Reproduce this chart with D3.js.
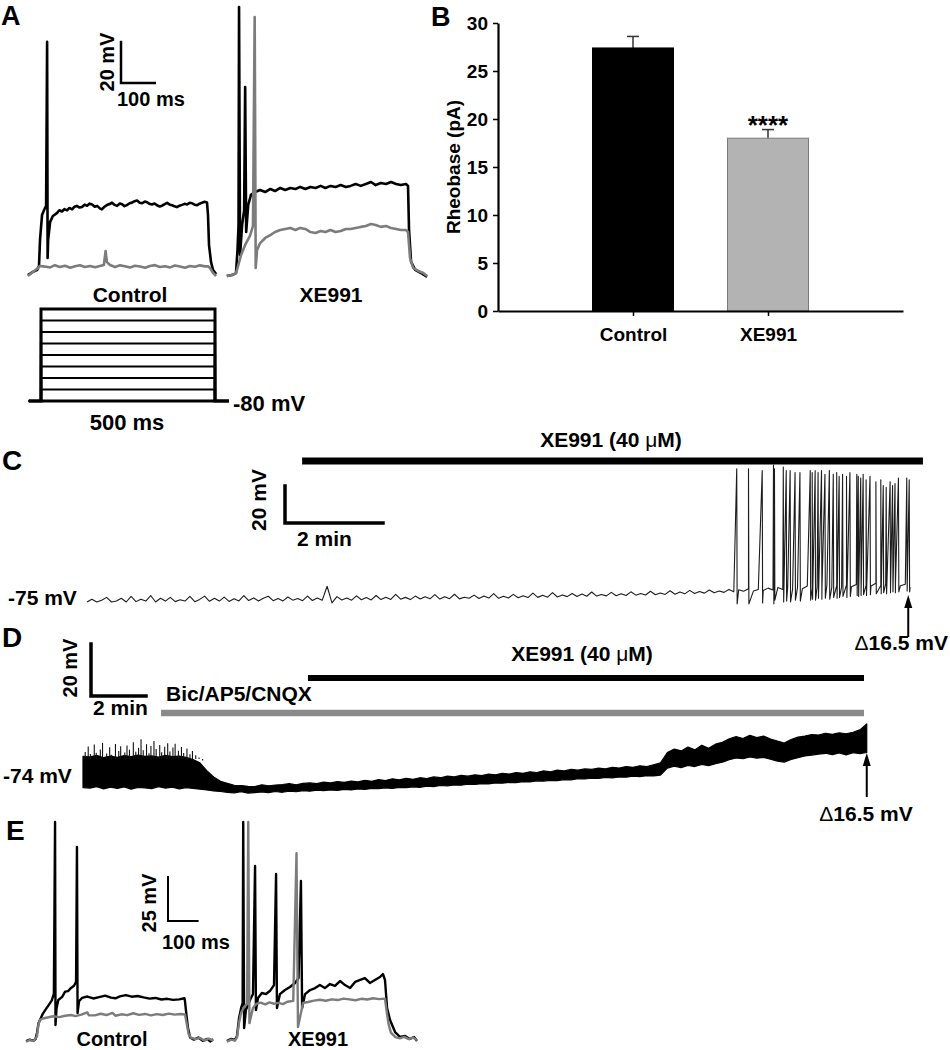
<!DOCTYPE html>
<html>
<head>
<meta charset="utf-8">
<script src="https://cdn.jsdelivr.net/npm/d3@7"></script>
<style>
  body { margin: 0; background: #fff; }
  svg text { font-family: "Liberation Sans", Arial, sans-serif; font-weight: bold; fill: #000; }
</style>
</head>
<body>
<svg id="fig" width="950" height="1050"></svg>
<script>
// ---- data ----

// A: current-clamp traces [ms, mV]
var aCtrlBlack = [[-33,-83.9],[-18,-82.4],[-6,-81.5],[0,-79.5],[3,-66.8],[9,-54.6],[15,-52.2],[21,-50.2],[24,29.8],[25.5,-75.6],[27,-66.8],[33,-58],[41,-55.1],[53,-53.7],[60,-52.3],[68,-52.9],[75,-51.8],[83,-52.4],[90,-51.2],[98,-51.9],[105,-50.6],[112,-50.2],[120,-51],[127,-50.7],[135,-49.6],[142,-50.1],[150,-49.1],[157,-49.5],[165,-50.6],[172,-50.2],[180,-51.4],[186,-51.9],[194,-50.5],[201,-49.8],[209,-49.3],[216,-48.6],[224,-49.7],[231,-50.2],[239,-49],[246,-49.4],[253,-50.3],[260,-49.8],[268,-48.9],[275,-48.6],[283,-47.9],[290,-47.6],[298,-48.7],[305,-48.9],[313,-48.1],[320,-48.4],[327,-49.2],[334,-49.5],[342,-49],[349,-49.9],[357,-50.5],[364,-50.1],[372,-49.3],[379,-48.7],[387,-49.6],[394,-49.9],[401,-50.4],[408,-50.8],[416,-50.1],[423,-49.7],[431,-49.2],[438,-49.5],[446,-48.7],[453,-48.9],[460,-49.6],[468,-49.9],[475,-49.1],[482,-48.7],[490,-48.2],[497,-48.5],[500,-54.6],[503,-69.3],[509,-77.6],[515,-81.5],[524,-83.4]];
var aCtrlGray = [[-33,-84.4],[-18,-82.4],[-3,-80.5],[3,-79.5],[18,-79.8],[33,-80.2],[47,-79.1],[62,-80],[77,-79.4],[92,-80.4],[107,-79.6],[121,-79.1],[136,-80],[151,-79.5],[166,-80.1],[180,-79.5],[192,-79],[197,-72.2],[201,-77.6],[210,-79],[225,-80],[240,-79.2],[254,-79.6],[269,-80.3],[284,-79.4],[299,-79.8],[314,-80.4],[328,-79.5],[343,-79.1],[358,-80],[373,-79.6],[388,-80.2],[402,-79.3],[417,-79.8],[432,-80.4],[447,-79.5],[462,-79.9],[476,-79.2],[491,-79.7],[500,-79.6],[506,-80.5],[515,-82.9],[524,-84.4]];
var aXeBlack = [[-30,-82],[-15,-81.5],[-3,-80.5],[1.5,-69.3],[4.5,-57.1],[6,49.3],[9,-71.7],[15,-57.1],[21,-49.8],[24,10.2],[27,-60.5],[33,-47.3],[41,-42.4],[53,-41],[68,-40],[83,-41],[98,-39.5],[112,-40.5],[127,-39],[142,-40],[157,-39],[172,-39.5],[186,-38.5],[201,-39.5],[216,-38.5],[231,-39],[246,-38],[260,-39],[275,-38],[290,-38.5],[305,-37.6],[320,-38.5],[334,-38],[349,-37.1],[364,-38],[379,-37.1],[394,-36.1],[408,-37.6],[423,-36.6],[438,-37.1],[453,-36.1],[468,-37.1],[482,-37.6],[497,-37.1],[503,-38],[506,-59.5],[512,-75],[524,-79],[541,-80.5],[559,-82.4]];
var aXeGray = [[-30,-82],[-15,-81.5],[-3,-80.5],[3,-77.1],[12,-71.7],[24,-66.8],[38,-62.4],[47,-57.6],[52,44.4],[55,-78],[59,-69.3],[68,-65.9],[83,-63.4],[98,-62],[112,-60.5],[127,-59.5],[142,-59],[157,-58.5],[172,-59.5],[186,-58.5],[201,-59],[216,-60.5],[231,-61],[246,-60],[260,-60.5],[275,-59.5],[290,-60.5],[305,-60],[320,-59],[334,-59],[349,-58.5],[364,-58],[379,-57.6],[394,-56.6],[408,-57.1],[423,-58],[438,-57.6],[453,-58.5],[468,-59],[482,-59.5],[497,-59.5],[503,-60.5],[509,-73.2],[518,-78],[533,-79.5],[548,-80.5],[559,-82]];
var stepCurrents = [0, 5, 10, 15, 20, 25, 30, 35, 40]; // pA, 500 ms steps

// B: rheobase
var rheoGroups = ["Control", "XE991"];
var rheoMeans = [27.4, 18.0];
var rheoSems = [1.2, 0.9];
var rheoTicks = [0, 5, 10, 15, 20, 25, 30];

// C: XE991 wash-in, sampled every 0.1 min (mV), plus action potentials [min, peak, trough]
var cDt = 0.1;
var cTrace = [
  -75,-73.5,-75,-74,-72.5,-75,-74.5,-73,-75,-72,
  -74.8,-73.5,-74.5,-71.5,-75,-73,-74.5,-72.5,-74.8,-73.8,
  -74.5,-72,-74.8,-73.6,-71.8,-74.6,-73,-74.5,-72.4,-74.7,
  -73.2,-74.4,-71.5,-74.2,-72.8,-74.5,-73,-71.9,-74.3,-73.1,
  -74.4,-72.3,-74,-73.1,-74.3,-71.8,-74.2,-72.9,-74.1,-66.5,
  -75.5,-72.1,-73.9,-72.8,-74,-71.7,-73.8,-72.6,-73.9,-71.5,
  -73.7,-72.4,-73.6,-70.9,-73.5,-72.5,-73.7,-71.8,-73.4,-72.2,
  -73.3,-71,-73.4,-72.1,-73.2,-70.8,-73.3,-72.4,-73,-71.3,
  -73.1,-71.7,-72.9,-70.5,-73,-71.9,-72.8,-70.9,-72.7,-71.6,
  -72.6,-70.2,-72.5,-71.3,-72.4,-69.9,-72.3,-71.2,-72.1,-70.4,
  -72,-70.7,-71.9,-69.6,-71.8,-70.9,-71.7,-69.8,-71.6,-70.5,
  -71.5,-69.5,-71.3,-70.4,-71.2,-69.2,-71.1,-70.1,-70.9,-68.9,
  -70.8,-69.6,-70.6,-68.7,-70.4,-69.3,-70.2,-68.5,-70,-69.1,
  -69.8,-68.2,-69.5,-68.4,-69.2,-67.9,-69.1,-68.2,-68.8,-67.5,
  -68.5,-67.1,-68.2,-66.9,-68,-67.2,-67.8,-66.4,-67.6,-66.8,
  -67.3,-65.9,-67.1,-66.2,-66.9,-65.7,-66.8,-65.5,-66.6,-65.9,
  -66.3,-64.9,-66.1,-65.2,-65.9,-64.8,-66.2,-65.4,-67
];
var cSpikes = [[13.26,-3,-76],[13.50,-3,-76],[13.78,-4,-75.5],[14.01,-1,-76],[14.03,-3,-74],[14.21,-2,-75],[14.27,-4,-74.5],[14.35,-4,-75],[14.45,-5,-74],[14.55,-5,-74.5],[14.76,-4,-74],[14.80,-5,-73.5],[14.86,-4,-74],[14.92,-5,-73],[14.99,-4,-73.5],[15.06,-6,-73],[15.15,-4,-73.5],[15.23,-6,-72.5],[15.30,-5,-73],[15.35,-7,-72.5],[15.42,-6,-72],[15.50,-7,-72.5],[15.57,-5,-72],[15.71,-6,-71.5],[15.74,-7,-72],[15.79,-8,-71.5],[15.84,-6,-71],[15.90,-9,-71.5],[15.98,-7,-71],[16.10,-10,-70.5],[16.20,-9,-70.5],[16.25,-12,-70],[16.31,-13,-70.5],[16.39,-10,-70],[16.44,-12,-69.5],[16.49,-11,-70],[16.56,-8,-69.5],[16.73,-8,-69],[16.78,-9,-69.5]];
var cDrug = [4.39, 17.06]; // min
var cArrowT = 16.76;

// D: same in Bic/AP5/CNQX, envelope of the trace every 0.25 min (mV)
var dDt = 0.25;
var dLow = [
  -75,-75.2,-74.6,-75.5,-74.8,-75.3,-74.7,-75.6,-74.9,-75.1,
  -75.4,-74.6,-75.2,-74.8,-75.5,-75,-75.3,-75.6,-75.9,-76.3,
  -76.5,-76.8,-77,-76.6,-77.1,-76.9,-76.7,-76.9,-76.5,-76.8,
  -76.4,-76.6,-76.2,-76.4,-76,-76.2,-75.9,-76.1,-75.7,-75.9,
  -75.5,-75.7,-75.3,-75.4,-75.1,-75.3,-74.9,-75,-74.7,-74.9,
  -74.4,-74.6,-74.2,-74.3,-74,-74.1,-73.7,-73.8,-73.5,-73.6,
  -73.2,-73.3,-73,-73.1,-72.7,-72.8,-72.4,-72.5,-72.2,-72.3,
  -71.9,-72,-71.6,-71.7,-71.4,-71.5,-71.1,-71.3,-70.9,-71,
  -70.6,-70.8,-70.4,-70.5,-70.2,-67.5,-66.8,-67.3,-66.5,-66.9,
  -66.1,-66.6,-65.8,-65.2,-64.3,-63.6,-63.9,-63.2,-63.7,-63.4,
  -64.1,-64.8,-65.2,-64.2,-63.5,-62.8,-62.5,-62.1,-61.8,-62.3,
  -61.7,-62.4,-61.6,-61.9,-61.5
];
var dHigh = [
  -63,-63.2,-62.6,-63.5,-62.9,-63.4,-62.7,-63.1,-62.5,-63,
  -62.8,-63.3,-62.6,-63.1,-62.9,-63.4,-64.2,-65.5,-68.5,-70.9,
  -72.6,-73.4,-74.1,-74.2,-74.5,-74.6,-73.9,-74.3,-74,-73.8,
  -73.5,-73.9,-73.4,-73.2,-73.5,-72.9,-73.2,-72.7,-73,-72.5,
  -72.8,-72.2,-72.6,-71.9,-72.3,-71.6,-72,-71.4,-71.8,-71.2,
  -71.5,-70.9,-71.2,-70.6,-70.9,-70.3,-70.6,-70.1,-70.4,-69.8,
  -70.1,-69.5,-69.8,-69.2,-69.5,-68.9,-69.2,-68.6,-68.9,-68.3,
  -68.6,-68,-68.3,-67.8,-68,-67.5,-67.8,-67.2,-67.5,-66.9,
  -67.2,-66.6,-66.9,-66.2,-65.5,-61.5,-60.2,-60.9,-59.4,-60.5,
  -58.7,-59.9,-58.3,-57.6,-56.2,-55.4,-56.1,-54.9,-55.8,-55.2,
  -56.3,-57.1,-57.9,-56.5,-55.6,-55.2,-54.6,-54.8,-54.1,-54.5,
  -53.9,-54.3,-53.7,-52.8,-50.5
];
// spontaneous events riding on the early (pre-blocker) part of D [min, peak mV]
var dBurst = [[0.08,-61.3],[0.19,-59.2],[0.27,-62.1],[0.41,-58.4],[0.48,-61.6],[0.63,-60.3],[0.71,-57.8],[0.86,-61.9],[0.97,-59.5],[1.04,-62.4],[1.18,-58.2],[1.3,-60.9],[1.37,-59.1],[1.52,-61.5],[1.6,-58.8],[1.69,-60.4],[1.83,-57.6],[1.92,-61.2],[2.02,-59.7],[2.11,-56.4],[2.19,-60.6],[2.31,-58.3],[2.4,-61.8],[2.47,-59],[2.58,-57.1],[2.66,-60.2],[2.79,-58.6],[2.86,-61.4],[2.97,-59.3],[3.08,-57.9],[3.16,-61.1],[3.27,-59.6],[3.35,-58.1],[3.47,-60.8],[3.58,-59.4],[3.66,-61.7],[3.78,-60],[3.89,-62.2],[3.98,-60.9],[4.1,-62.6],[4.22,-63.4],[4.35,-64.6]];
var dBlockers = [2.84, 28.4]; // min
var dDrug = [8.18, 28.4];
var dArrowT = 28.5;

// E: current-clamp traces [ms, mV]
var eCtrlBlack = [[-37,-80.6],[-25,-79.8],[-12,-80.4],[-5,-79.5],[0,-76],[5,-70.5],[10,-68.6],[20,-65],[30,-62.5],[40,-60],[50,-57.5],[57,-53.8],[61,43.9],[62.5,-71.5],[66,-62],[72,-57.3],[85,-55.5],[95,-52.5],[105,-52.2],[115,-50.4],[125,-49.2],[132,-47],[135,29.7],[137,-64.7],[142,-58],[152,-56.1],[170,-55.3],[190,-56.4],[210,-55.6],[230,-54.8],[250,-55.9],[265,-56.3],[280,-55.2],[300,-54.5],[320,-55.4],[340,-55],[360,-55.8],[380,-56.5],[400,-56.1],[420,-57],[440,-56.6],[460,-57.2],[480,-56.9],[498,-56.3],[500,-58],[505,-66],[510,-73],[517,-78.5],[530,-79.8],[545,-78.6],[560,-80.5],[575,-79.4],[585,-80.8],[595,-79.6]];
var eCtrlGray = [[-37,-81],[-25,-80],[-12,-80.6],[0,-78],[5,-71],[10,-68.6],[20,-67.8],[35,-67.2],[55,-66.5],[75,-67],[95,-66.2],[115,-65.8],[130,-66.4],[150,-65.6],[170,-64.3],[175,-65.9],[195,-66],[215,-65.1],[235,-65.8],[255,-64.6],[265,-66.2],[285,-65.4],[305,-65.9],[325,-64.8],[345,-65.7],[365,-65.2],[385,-66],[405,-65.3],[425,-65.8],[445,-65],[465,-65.6],[485,-65.2],[500,-65.5],[505,-70],[512,-76.5],[520,-78.6],[535,-79.5],[550,-78.8],[565,-80.3],[580,-79.2],[595,-80.4]];
var eXeBlack = [[-34,-80.6],[-20,-79.4],[-7,-80],[0,-77.7],[7,-67.5],[14,-61.8],[19,-59],[21,43.9],[24,-73.2],[30,-63],[44,-57.3],[54,-53.9],[61,18.9],[64,-63],[71,-56.1],[84,-53.3],[98,-53.9],[111,-52.2],[125,-48.8],[132,14.3],[135,-61.8],[145,-53.9],[162,-51.6],[179,-49.9],[196,-47.6],[208,-44.8],[216,10.3],[220,-61.8],[230,-53.9],[247,-51.6],[264,-50.5],[280,-48.8],[297,-50.5],[314,-48.2],[331,-49.3],[348,-46.5],[365,-48.8],[382,-50.5],[399,-47],[416,-45.9],[432,-44.8],[449,-47.6],[466,-45.9],[483,-44.2],[493,-42.5],[500,-45.9],[507,-61.8],[517,-68.6],[534,-75.5],[551,-78.3],[568,-77.7],[584,-79.4],[598,-78.3],[608,-80.6]];
var eXeGray = [[-34,-81],[-20,-79.8],[-7,-80.4],[0,-78.5],[7,-70],[14,-64.5],[25,-61],[34,-59.5],[38,43.9],[42,-70.4],[54,-61.8],[65,-59.5],[80,-58.8],[95,-59.8],[110,-58.6],[125,-59.4],[140,-58.9],[155,-59.6],[170,-58.3],[190,-57.8],[201,26.1],[206,-72.6],[223,-59],[240,-58.4],[260,-57.6],[280,-57.1],[300,-57.7],[320,-56.9],[340,-57.3],[360,-56.5],[380,-56.9],[400,-57.4],[420,-56.6],[440,-57],[460,-56.3],[480,-56.8],[500,-56.5],[505,-63],[512,-71],[520,-75.8],[535,-78.4],[550,-79.1],[565,-78.2],[580,-79.5],[595,-78.6],[608,-80.2]];

// ---- drawing ----
var svg = d3.select("#fig");
svg.append("rect").attr("width", 950).attr("height", 1050).attr("fill", "#fff");

var GRAY = "#7c7c7c";

function drawTrace(data, x, y, color, width) {
  svg.append("path")
    .datum(data)
    .attr("d", d3.line()
      .x(function(d) { return x(d[0]); })
      .y(function(d) { return y(d[1]); }))
    .attr("fill", "none")
    .attr("stroke", color)
    .attr("stroke-width", width)
    .attr("stroke-linejoin", "round");
}

function label(txt, x, y, size, anchor) {
  return svg.append("text")
    .attr("x", x)
    .attr("y", y)
    .attr("font-size", size)
    .attr("text-anchor", anchor || "start")
    .text(txt);
}

function vlabel(txt, x, y, size) {
  return svg.append("text")
    .attr("transform", "translate(" + x + "," + y + ") rotate(-90)")
    .attr("font-size", size)
    .attr("text-anchor", "middle")
    .text(txt);
}

function drugLabel(x, y, size) { // "XE991 (40 µM)" with a plain mu
  var t = svg.append("text")
    .attr("x", x).attr("y", y)
    .attr("font-size", size)
    .attr("text-anchor", "middle");
  t.append("tspan").text("XE991 (40 ");
  t.append("tspan").attr("font-weight", "normal").text("\u03bc");
  t.append("tspan").text("M)");
}

function deltaLabel(x, y, anchor) {
  var t = svg.append("text")
    .attr("x", x).attr("y", y)
    .attr("font-size", 21)
    .attr("text-anchor", anchor);
  t.append("tspan").attr("font-weight", "normal").text("\u0394");
  t.append("tspan").text("16.5 mV");
}

function scaleBar(x0, y0, w, h, sw) {
  svg.append("path")
    .attr("d", "M" + x0 + "," + (y0 - h) + "V" + y0 + "H" + (x0 + w))
    .attr("fill", "none")
    .attr("stroke", "#000")
    .attr("stroke-width", sw)
    .attr("stroke-linecap", "square");
}

function arrowUp(x, yTip, yEnd) {
  svg.append("line")
    .attr("x1", x).attr("x2", x)
    .attr("y1", yTip + 10).attr("y2", yEnd)
    .attr("stroke", "#000").attr("stroke-width", 2);
  svg.append("path")
    .attr("d", "M" + x + "," + yTip + "L" + (x - 4) + "," + (yTip + 13) + "L" + (x + 4) + "," + (yTip + 13) + "Z")
    .attr("fill", "#000");
}

function drugBar(x, y, span, color, thick) {
  svg.append("line")
    .attr("x1", x(span[0])).attr("x2", x(span[1]))
    .attr("y1", y).attr("y2", y)
    .attr("stroke", color)
    .attr("stroke-width", thick);
}

// panel letters
label("A", 1, 25, 27);
label("B", 431, 26, 27);
label("C", 2, 470, 28);
label("D", 2, 647, 28);
label("E", 6, 840, 28);

// ---------- A ----------
var xAc = d3.scaleLinear().domain([0, 500]).range([39, 208]);
var xAx = d3.scaleLinear().domain([0, 500]).range([237, 407]);
var yAc = d3.scaleLinear().domain([-80, -60]).range([267, 226]);
var yAx = d3.scaleLinear().domain([-80, -60]).range([272, 231]);

drawTrace(aCtrlBlack, xAc, yAc, "#000", 2.6);
drawTrace(aCtrlGray, xAc, yAc, GRAY, 2.6);
drawTrace(aXeBlack, xAx, yAx, "#000", 2.6);
drawTrace(aXeGray, xAx, yAx, GRAY, 2.6);

scaleBar(121, 83, xAc(100) - xAc(0), yAc(-80) - yAc(-60), 2.5);
vlabel("20 mV", 114, 62, 20);
label("100 ms", 117, 106, 20);
label("Control", 130, 302, 21, "middle");
label("XE991", 331, 302, 21, "middle");

// step protocol
var xStep = d3.scaleLinear().domain([0, 500]).range([41, 215]);
var yStep = d3.scaleLinear().domain([0, 40]).range([401, 309]);
stepCurrents.forEach(function(c) {
  var pts = [[-35, 0], [0, 0], [0, c], [500, c], [500, 0], [540, 0]];
  svg.append("path")
    .datum(pts)
    .attr("d", d3.line()
      .x(function(d) { return xStep(d[0]); })
      .y(function(d) { return yStep(d[1]); }))
    .attr("fill", "none")
    .attr("stroke", "#000")
    .attr("stroke-width", c === 0 || c === 40 ? 3 : 2.2);
});
label("-80 mV", 233, 411, 22);
label("500 ms", 127, 430, 22, "middle");

// ---------- B ----------
var xB = d3.scalePoint().domain(rheoGroups).range([498, 903]).padding(1);
var yB = d3.scaleLinear().domain([0, 30]).range([311, 23]);
var bw = xB.step() * 0.6;
var barFill = ["#000", "#b3b3b3"];
var barStroke = ["#000", "#7a7a7a"];

rheoGroups.forEach(function(g, i) {
  var cx = xB(g);
  svg.append("line")
    .attr("x1", cx).attr("x2", cx)
    .attr("y1", yB(rheoMeans[i])).attr("y2", yB(rheoMeans[i] + rheoSems[i]))
    .attr("stroke", "#333").attr("stroke-width", 1.5);
  svg.append("line")
    .attr("x1", cx - 6).attr("x2", cx + 6)
    .attr("y1", yB(rheoMeans[i] + rheoSems[i])).attr("y2", yB(rheoMeans[i] + rheoSems[i]))
    .attr("stroke", "#333").attr("stroke-width", 1.5);
  svg.append("rect")
    .attr("x", cx - bw / 2)
    .attr("y", yB(rheoMeans[i]))
    .attr("width", bw)
    .attr("height", yB(0) - yB(rheoMeans[i]))
    .attr("fill", barFill[i])
    .attr("stroke", barStroke[i])
    .attr("stroke-width", 1);
});
label("****", xB("XE991"), yB(rheoMeans[1] + rheoSems[1]) + 4, 26, "middle");

var gyB = svg.append("g")
  .attr("transform", "translate(498,0)")
  .call(d3.axisLeft(yB).tickValues(rheoTicks).tickSize(5).tickPadding(5).tickSizeOuter(0));
var gxB = svg.append("g")
  .attr("transform", "translate(0,311)")
  .call(d3.axisBottom(xB).tickSize(5).tickPadding(12).tickSizeOuter(0));
[gyB, gxB].forEach(function(g) {
  g.attr("font-size", 19);
  g.select(".domain").attr("stroke-width", 2.2);
  g.selectAll(".tick line").attr("stroke-width", 1.5);
});
vlabel("Rheobase (pA)", 460, 167, 19);

// ---------- C ----------
var xC = d3.scaleLinear().domain([0, 2]).range([87, 185]);
var yC = d3.scaleLinear().domain([-75, -55]).range([602, 565]);
var cPoints = cTrace.map(function(v, i) { return [i * cDt, v]; });
cSpikes.forEach(function(s) {
  cPoints.push([s[0], s[1]]);
  cPoints.push([s[0] + 0.008, s[2]]);
});
cPoints.sort(function(a, b) { return a[0] - b[0]; });
drawTrace(cPoints, xC, yC, "#1c1c1c", 1.1);

drugBar(xC, 461, cDrug, "#000", 7);
drugLabel(611, 447, 21);
scaleBar(285, 523, xC(2) - xC(0), yC(-75) - yC(-55), 3.5);
vlabel("20 mV", 266, 500, 21);
label("2 min", 297, 546, 21);
label("-75 mV", 8, 605, 21);
arrowUp(xC(cArrowT), 595, 637);
deltaLabel(948, 650, "end");

// ---------- D ----------
var xD = d3.scaleLinear().domain([0, 2]).range([83, 138]);
var yD = d3.scaleLinear().domain([-74, -54]).range([785, 733]);
var dBand = dLow.map(function(v, i) { return [i * dDt, v, dHigh[i]]; });
svg.append("path")
  .datum(dBand)
  .attr("d", d3.area()
    .x(function(d) { return xD(d[0]); })
    .y0(function(d) { return yD(d[1]); })
    .y1(function(d) { return yD(d[2]); }))
  .attr("fill", "#000")
  .attr("stroke", "#000")
  .attr("stroke-width", 1.2)
  .attr("stroke-linejoin", "round");
svg.append("g")
  .selectAll("line")
  .data(dBurst)
  .enter()
  .append("line")
    .attr("x1", function(d) { return xD(d[0]); })
    .attr("x2", function(d) { return xD(d[0]); })
    .attr("y1", yD(-64))
    .attr("y2", function(d) { return yD(d[1]); })
    .attr("stroke", "#111")
    .attr("stroke-width", 1.1);

drugBar(xD, 678, dDrug, "#000", 6);
drugBar(xD, 713, dBlockers, "#8a8a8a", 6.5);
drugLabel(582, 661, 21);
label("Bic/AP5/CNQX", 166, 701, 21);
scaleBar(91, 696, xD(2) - xD(0), yD(-74) - yD(-54), 3.5);
vlabel("20 mV", 77, 668, 20);
label("2 min", 93, 715, 21);
label("-74 mV", 3, 783, 21);
arrowUp(xD(dArrowT), 753, 797);
deltaLabel(866, 821, "middle");

// ---------- E ----------
var xEc = d3.scaleLinear().domain([0, 500]).range([37, 185]);
var xEx = d3.scaleLinear().domain([0, 500]).range([237, 385]);
var yE = d3.scaleLinear().domain([-80, -55]).range([1040, 996]);

drawTrace(eCtrlBlack, xEc, yE, "#000", 2.4);
drawTrace(eCtrlGray, xEc, yE, GRAY, 2.4);
drawTrace(eXeBlack, xEx, yE, "#000", 2.4);
drawTrace(eXeGray, xEx, yE, GRAY, 2.4);

scaleBar(168, 921, xEc(100) - xEc(0), yE(-80) - yE(-55), 2);
vlabel("25 mV", 156, 903, 20);
label("100 ms", 162, 949, 20);
label("Control", 112, 1046, 20, "middle");
label("XE991", 318, 1046, 20, "middle");
</script>
</body>
</html>
